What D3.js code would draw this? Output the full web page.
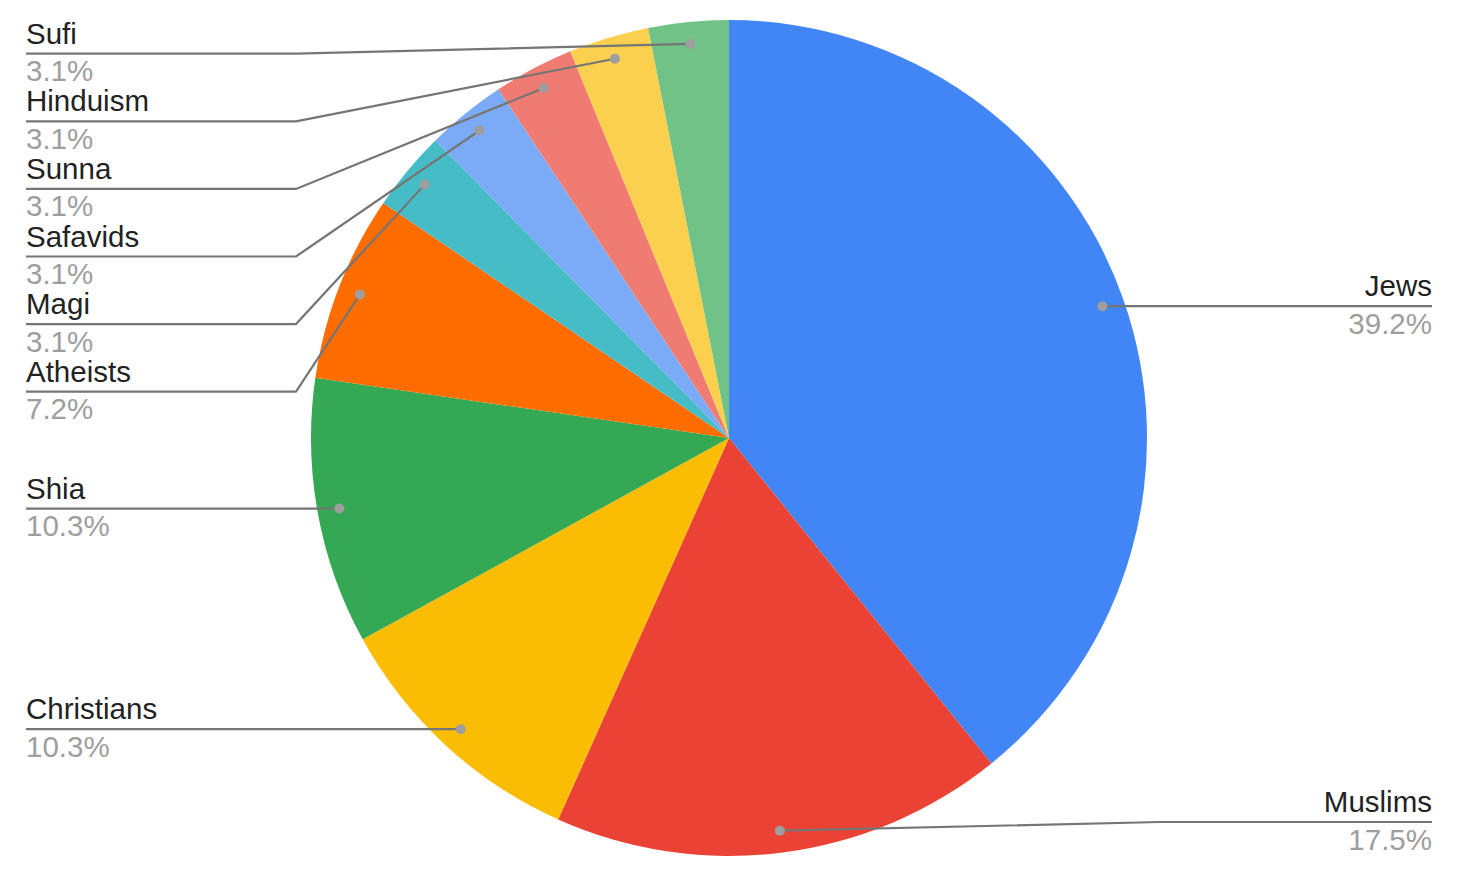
<!DOCTYPE html>
<html><head><meta charset="utf-8">
<script src="https://cdn.jsdelivr.net/npm/d3@7"></script>
<style>html,body{margin:0;padding:0;background:#fff;}svg{display:block;font-family:"Liberation Sans",Arial,sans-serif;font-variant-ligatures:none;}</style>
</head><body>
<svg id="chart" width="1457" height="873"></svg>
<script>
const categories = ["Jews","Muslims","Christians","Shia","Atheists","Magi","Safavids","Sunna","Hinduism","Sufi"];
const values = [39.2,17.5,10.3,10.3,7.2,3.1,3.1,3.1,3.1,3.1];
const colors = ["#4285F4","#EA4335","#FBBC04","#34A853","#FF6D01","#46BDC6","#7BAAF7","#F07B72","#FCD04F","#71C287"];

const W = 1457, H = 873;
const cx = 729, cy = 438, R = 418;
const svg = d3.select("#chart");

const pie = d3.pie().sort(null).value(d => d.v).startAngle(0).endAngle(2*Math.PI);
const data = categories.map((c,i)=>({name:c, v:values[i], color:colors[i]}));
const arcs = pie(data);
const arc = d3.arc().innerRadius(0).outerRadius(R);
const dotArc = d3.arc().innerRadius(396).outerRadius(396);

const g = svg.append("g").attr("transform",`translate(${cx},${cy})`);
g.selectAll("path.slice").data(arcs).enter().append("path")
  .attr("class","slice").attr("d",arc).attr("fill",d=>d.data.color);

// label layout
const labels = arcs.map(a=>{
  const [x,y] = dotArc.centroid(a);
  const mid = (a.startAngle+a.endAngle)/2;
  return {a, dx:cx+x, dy:cy+y, side: mid < Math.PI ? "right":"left"};
});
const spacing = 67.6, topMin = 53.7, botMax = 822;
["left","right"].forEach(side=>{
  const arr = labels.filter(l=>l.side===side).sort((p,q)=>p.dy-q.dy);
  let prev = -Infinity;
  arr.forEach(l=>{ l.ly = Math.max(l.dy, prev+spacing, topMin); prev = l.ly; });
  for(let i=arr.length-1, next=Infinity;i>=0;i--){ arr[i].ly = Math.min(arr[i].ly, next-spacing, botMax); next = arr[i].ly; }
});

const textX = {left: 26, right: 1432};
const elbowX = {left: cx-433, right: cx+431};
const lg = svg.append("g");
labels.forEach(l=>{
  const tx = textX[l.side], ex = elbowX[l.side];
  const pts = Math.abs(l.ly-l.dy) < 0.5 ? [[tx,l.ly],[l.dx,l.dy]] : [[tx,l.ly],[ex,l.ly],[l.dx,l.dy]];
  lg.append("path").attr("d",d3.line()(pts)).attr("fill","none").attr("stroke","#757575").attr("stroke-width",2.2);
  lg.append("circle").attr("cx",l.dx).attr("cy",l.dy).attr("r",5).attr("fill","#9e9e9e");
  const anchor = l.side==="left" ? "start":"end";
  lg.append("text").attr("x",tx).attr("y",l.ly-10).attr("text-anchor",anchor)
    .attr("font-size",29.5).attr("fill","#222").text(l.a.data.name);
  lg.append("text").attr("x",tx).attr("y",l.ly+27.5).attr("text-anchor",anchor)
    .attr("font-size",29.5).attr("fill","#9e9e9e").text(l.a.data.v.toFixed(1)+"%");
});
</script>
</body></html>
